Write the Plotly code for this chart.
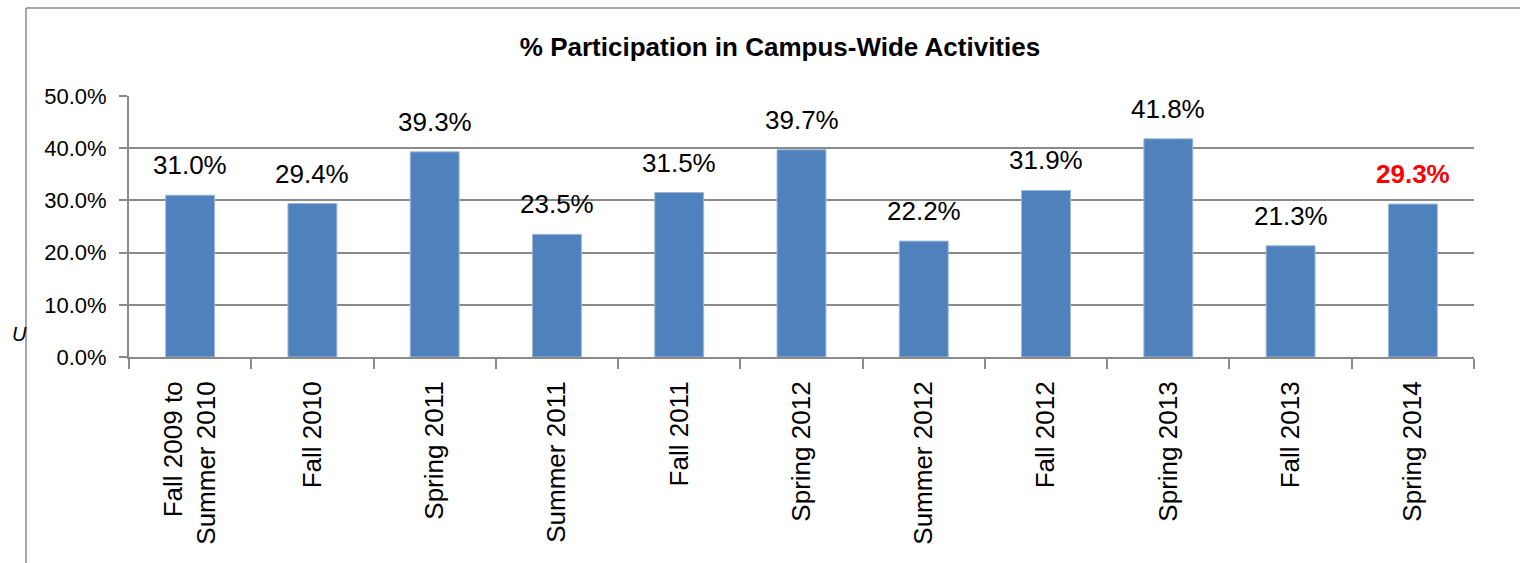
import plotly.graph_objects as go

# Participation by term
terms = [
    "Fall 2009 to<br>Summer 2010", "Fall 2010", "Spring 2011", "Summer 2011",
    "Fall 2011", "Spring 2012", "Summer 2012", "Fall 2012", "Spring 2013",
    "Fall 2013", "Spring 2014",
]
participation = [0.310, 0.294, 0.393, 0.235, 0.315, 0.397, 0.222, 0.319, 0.418, 0.213, 0.293]
y_ticks = [0.0, 0.1, 0.2, 0.3, 0.4, 0.5]

W, H = 1520, 563
FONT = "Liberation Sans, Arial, sans-serif"
GRID = "#8A8A8A"
BAR = "#4F81BD"

fig = go.Figure()
fig.add_trace(go.Bar(
    x=terms, y=participation, width=0.4,
    marker=dict(color=BAR, line=dict(color="#9DB8DA", width=1)),
    hoverinfo="x+y",
))

# value labels above each bar; the latest term is highlighted
for i, (t, v) in enumerate(zip(terms, participation)):
    last = i == len(terms) - 1
    fig.add_annotation(
        x=t, y=v, xref="x", yref="y", text=f"<b>{v:.1%}</b>" if last else f"{v:.1%}",
        showarrow=False, yanchor="bottom", yshift=13,
        font=dict(family=FONT, size=26, color="#FF0000" if last else "#000000"),
    )

# plot area placement in pixels
x0, x1 = 129, 1474
y_top, y_bot = 96, 357

fig.update_layout(
    width=W, height=H, autosize=False,
    margin=dict(l=0, r=0, t=0, b=0, pad=0, autoexpand=False),
    paper_bgcolor="white", plot_bgcolor="white",
    showlegend=False, bargap=0.6,
    font=dict(family=FONT, color="#000000"),
    title=dict(
        text="<b>% Participation in Campus-Wide Activities</b>",
        x=780 / W, xanchor="center", y=1 - 47 / H, yanchor="middle",
        font=dict(family=FONT, size=26, color="#000000"),
    ),
    xaxis=dict(
        domain=[x0 / W, x1 / W], automargin=False,
        showgrid=False, showline=True, linecolor=GRID, linewidth=2,
        ticks="outside", tickson="boundaries", ticklen=10, tickcolor=GRID, tickwidth=2,
        tickangle=-90, tickfont=dict(family=FONT, size=26, color="#000000"),
        ticklabelstandoff=12,
    ),
    yaxis=dict(
        domain=[1 - y_bot / H, 1 - y_top / H], automargin=False,
        range=[0, 0.5], tickvals=y_ticks, tickformat=".1%",
        showgrid=True, gridcolor=GRID, gridwidth=2,
        showline=True, linecolor=GRID, linewidth=2,
        ticks="outside", ticklen=8, tickcolor=GRID, tickwidth=2,
        tickfont=dict(family=FONT, size=22, color="#000000"),
        ticklabelstandoff=8, zeroline=False,
    ),
)

# chart frame edges (top and left)
fig.add_shape(type="line", xref="paper", yref="paper",
              x0=26 / W, x1=1.0, y0=1 - 8 / H, y1=1 - 8 / H,
              line=dict(color=GRID, width=1.5))
fig.add_shape(type="line", xref="paper", yref="paper",
              x0=26 / W, x1=26 / W, y0=0, y1=1 - 8 / H,
              line=dict(color=GRID, width=1.5))

# clipped axis title fragment at the left edge
fig.add_annotation(
    x=10 / W, y=1 - 334 / H, xref="paper", yref="paper", text="<i>U</i>",
    showarrow=False, xanchor="left", yanchor="middle",
    font=dict(family=FONT, size=20, color="#000000"),
)

fig.write_html("out.html")
